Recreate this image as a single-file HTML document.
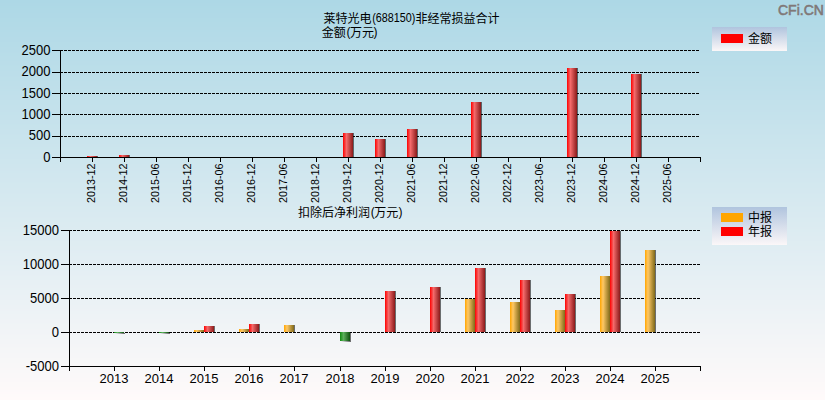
<!DOCTYPE html><html><head><meta charset="utf-8"><style>html,body{margin:0;padding:0;background:#fff}svg{display:block}.t{font-family:"Liberation Sans","WenQuanYi Zen Hei",sans-serif;fill:#000}.c{font-family:"Liberation Sans","Noto Sans CJK SC",sans-serif;fill:#000}</style></head><body>
<svg width="825" height="400" viewBox="0 0 825 400">
<defs><linearGradient id="bg" x1="0" y1="0" x2="0" y2="1"><stop offset="0" stop-color="#add8e6"/><stop offset="1" stop-color="#fffafa"/></linearGradient><linearGradient id="lg" x1="0" y1="0" x2="0" y2="1"><stop offset="0" stop-color="#b0c4de"/><stop offset="1" stop-color="#fbf7f8"/></linearGradient><linearGradient id="gr" x1="0" y1="0" x2="1" y2="0"><stop offset="0" stop-color="#ff0000"/><stop offset="0.35" stop-color="#f46a6a"/><stop offset="1" stop-color="#8b1a1a"/></linearGradient><linearGradient id="go" x1="0" y1="0" x2="1" y2="0"><stop offset="0" stop-color="#ffa500"/><stop offset="0.3" stop-color="#ffc866"/><stop offset="1" stop-color="#806a1a"/></linearGradient><linearGradient id="gg" x1="0" y1="0" x2="1" y2="0"><stop offset="0" stop-color="#108a10"/><stop offset="0.35" stop-color="#5cb05c"/><stop offset="1" stop-color="#0f500f"/></linearGradient><linearGradient id="sh" x1="0" y1="0" x2="1" y2="0"><stop offset="0" stop-color="#000" stop-opacity="0"/><stop offset="1" stop-color="#000" stop-opacity="0.55"/></linearGradient></defs>
<g shape-rendering="crispEdges">
<rect x="0" y="0" width="825" height="3" fill="#add8e6"/>
<rect x="0" y="3" width="825" height="3" fill="#aed8e6"/>
<rect x="0" y="6" width="825" height="2" fill="#aed9e6"/>
<rect x="0" y="8" width="825" height="2" fill="#afd9e6"/>
<rect x="0" y="10" width="825" height="3" fill="#afd9e7"/>
<rect x="0" y="13" width="825" height="5" fill="#b0d9e7"/>
<rect x="0" y="18" width="825" height="4" fill="#b1dae7"/>
<rect x="0" y="22" width="825" height="5" fill="#b2dae7"/>
<rect x="0" y="27" width="825" height="3" fill="#b3dae7"/>
<rect x="0" y="30" width="825" height="2" fill="#b3dbe8"/>
<rect x="0" y="32" width="825" height="5" fill="#b4dbe8"/>
<rect x="0" y="37" width="825" height="5" fill="#b5dbe8"/>
<rect x="0" y="42" width="825" height="5" fill="#b6dce8"/>
<rect x="0" y="47" width="825" height="3" fill="#b7dce8"/>
<rect x="0" y="50" width="825" height="2" fill="#b7dce9"/>
<rect x="0" y="52" width="825" height="1" fill="#b8dce9"/>
<rect x="0" y="53" width="825" height="3" fill="#b8dde9"/>
<rect x="0" y="56" width="825" height="5" fill="#b9dde9"/>
<rect x="0" y="61" width="825" height="4" fill="#badde9"/>
<rect x="0" y="65" width="825" height="1" fill="#badee9"/>
<rect x="0" y="66" width="825" height="4" fill="#bbdee9"/>
<rect x="0" y="70" width="825" height="1" fill="#bbdeea"/>
<rect x="0" y="71" width="825" height="5" fill="#bcdeea"/>
<rect x="0" y="76" width="825" height="1" fill="#bddeea"/>
<rect x="0" y="77" width="825" height="4" fill="#bddfea"/>
<rect x="0" y="81" width="825" height="5" fill="#bedfea"/>
<rect x="0" y="86" width="825" height="3" fill="#bfdfea"/>
<rect x="0" y="89" width="825" height="1" fill="#bfe0ea"/>
<rect x="0" y="90" width="825" height="1" fill="#bfe0eb"/>
<rect x="0" y="91" width="825" height="4" fill="#c0e0eb"/>
<rect x="0" y="95" width="825" height="5" fill="#c1e0eb"/>
<rect x="0" y="100" width="825" height="5" fill="#c2e1eb"/>
<rect x="0" y="105" width="825" height="5" fill="#c3e1eb"/>
<rect x="0" y="110" width="825" height="2" fill="#c4e1ec"/>
<rect x="0" y="112" width="825" height="3" fill="#c4e2ec"/>
<rect x="0" y="115" width="825" height="5" fill="#c5e2ec"/>
<rect x="0" y="120" width="825" height="4" fill="#c6e2ec"/>
<rect x="0" y="124" width="825" height="1" fill="#c6e3ec"/>
<rect x="0" y="125" width="825" height="4" fill="#c7e3ec"/>
<rect x="0" y="129" width="825" height="1" fill="#c8e3ec"/>
<rect x="0" y="130" width="825" height="4" fill="#c8e3ed"/>
<rect x="0" y="134" width="825" height="1" fill="#c9e3ed"/>
<rect x="0" y="135" width="825" height="4" fill="#c9e4ed"/>
<rect x="0" y="139" width="825" height="5" fill="#cae4ed"/>
<rect x="0" y="144" width="825" height="3" fill="#cbe4ed"/>
<rect x="0" y="147" width="825" height="2" fill="#cbe5ed"/>
<rect x="0" y="149" width="825" height="1" fill="#cce5ed"/>
<rect x="0" y="150" width="825" height="4" fill="#cce5ee"/>
<rect x="0" y="154" width="825" height="5" fill="#cde5ee"/>
<rect x="0" y="159" width="825" height="5" fill="#cee6ee"/>
<rect x="0" y="164" width="825" height="4" fill="#cfe6ee"/>
<rect x="0" y="168" width="825" height="2" fill="#d0e6ee"/>
<rect x="0" y="170" width="825" height="1" fill="#d0e6ef"/>
<rect x="0" y="171" width="825" height="2" fill="#d0e7ef"/>
<rect x="0" y="173" width="825" height="5" fill="#d1e7ef"/>
<rect x="0" y="178" width="825" height="4" fill="#d2e7ef"/>
<rect x="0" y="182" width="825" height="1" fill="#d2e8ef"/>
<rect x="0" y="183" width="825" height="5" fill="#d3e8ef"/>
<rect x="0" y="188" width="825" height="2" fill="#d4e8ef"/>
<rect x="0" y="190" width="825" height="3" fill="#d4e8f0"/>
<rect x="0" y="193" width="825" height="1" fill="#d5e8f0"/>
<rect x="0" y="194" width="825" height="4" fill="#d5e9f0"/>
<rect x="0" y="198" width="825" height="4" fill="#d6e9f0"/>
<rect x="0" y="202" width="825" height="4" fill="#d7e9f0"/>
<rect x="0" y="206" width="825" height="1" fill="#d7eaf0"/>
<rect x="0" y="207" width="825" height="3" fill="#d8eaf0"/>
<rect x="0" y="210" width="825" height="2" fill="#d8eaf1"/>
<rect x="0" y="212" width="825" height="5" fill="#d9eaf1"/>
<rect x="0" y="217" width="825" height="1" fill="#daeaf1"/>
<rect x="0" y="218" width="825" height="4" fill="#daebf1"/>
<rect x="0" y="222" width="825" height="5" fill="#dbebf1"/>
<rect x="0" y="227" width="825" height="2" fill="#dcebf1"/>
<rect x="0" y="229" width="825" height="1" fill="#dcecf1"/>
<rect x="0" y="230" width="825" height="2" fill="#dcecf2"/>
<rect x="0" y="232" width="825" height="4" fill="#ddecf2"/>
<rect x="0" y="236" width="825" height="5" fill="#deecf2"/>
<rect x="0" y="241" width="825" height="5" fill="#dfedf2"/>
<rect x="0" y="246" width="825" height="4" fill="#e0edf2"/>
<rect x="0" y="250" width="825" height="1" fill="#e0edf3"/>
<rect x="0" y="251" width="825" height="2" fill="#e1edf3"/>
<rect x="0" y="253" width="825" height="3" fill="#e1eef3"/>
<rect x="0" y="256" width="825" height="5" fill="#e2eef3"/>
<rect x="0" y="261" width="825" height="4" fill="#e3eef3"/>
<rect x="0" y="265" width="825" height="1" fill="#e3eff3"/>
<rect x="0" y="266" width="825" height="4" fill="#e4eff3"/>
<rect x="0" y="270" width="825" height="1" fill="#e4eff4"/>
<rect x="0" y="271" width="825" height="4" fill="#e5eff4"/>
<rect x="0" y="275" width="825" height="1" fill="#e6eff4"/>
<rect x="0" y="276" width="825" height="4" fill="#e6f0f4"/>
<rect x="0" y="280" width="825" height="5" fill="#e7f0f4"/>
<rect x="0" y="285" width="825" height="3" fill="#e8f0f4"/>
<rect x="0" y="288" width="825" height="2" fill="#e8f1f4"/>
<rect x="0" y="290" width="825" height="5" fill="#e9f1f5"/>
<rect x="0" y="295" width="825" height="5" fill="#eaf1f5"/>
<rect x="0" y="300" width="825" height="5" fill="#ebf2f5"/>
<rect x="0" y="305" width="825" height="4" fill="#ecf2f5"/>
<rect x="0" y="309" width="825" height="1" fill="#edf2f5"/>
<rect x="0" y="310" width="825" height="1" fill="#edf2f6"/>
<rect x="0" y="311" width="825" height="3" fill="#edf3f6"/>
<rect x="0" y="314" width="825" height="5" fill="#eef3f6"/>
<rect x="0" y="319" width="825" height="4" fill="#eff3f6"/>
<rect x="0" y="323" width="825" height="1" fill="#eff4f6"/>
<rect x="0" y="324" width="825" height="5" fill="#f0f4f6"/>
<rect x="0" y="329" width="825" height="1" fill="#f1f4f6"/>
<rect x="0" y="330" width="825" height="4" fill="#f1f4f7"/>
<rect x="0" y="334" width="825" height="1" fill="#f2f4f7"/>
<rect x="0" y="335" width="825" height="4" fill="#f2f5f7"/>
<rect x="0" y="339" width="825" height="5" fill="#f3f5f7"/>
<rect x="0" y="344" width="825" height="3" fill="#f4f5f7"/>
<rect x="0" y="347" width="825" height="1" fill="#f4f6f7"/>
<rect x="0" y="348" width="825" height="2" fill="#f5f6f7"/>
<rect x="0" y="350" width="825" height="3" fill="#f5f6f8"/>
<rect x="0" y="353" width="825" height="5" fill="#f6f6f8"/>
<rect x="0" y="358" width="825" height="5" fill="#f7f7f8"/>
<rect x="0" y="363" width="825" height="5" fill="#f8f7f8"/>
<rect x="0" y="368" width="825" height="2" fill="#f9f7f8"/>
<rect x="0" y="370" width="825" height="3" fill="#f9f8f9"/>
<rect x="0" y="373" width="825" height="5" fill="#faf8f9"/>
<rect x="0" y="378" width="825" height="4" fill="#fbf8f9"/>
<rect x="0" y="382" width="825" height="5" fill="#fcf9f9"/>
<rect x="0" y="387" width="825" height="3" fill="#fdf9f9"/>
<rect x="0" y="390" width="825" height="2" fill="#fdf9fa"/>
<rect x="0" y="392" width="825" height="2" fill="#fef9fa"/>
<rect x="0" y="394" width="825" height="3" fill="#fefafa"/>
<rect x="0" y="397" width="825" height="3" fill="#fffafa"/>
</g>
<g shape-rendering="crispEdges">
<line x1="60" y1="50.5" x2="700" y2="50.5" stroke="#000" stroke-width="1" stroke-dasharray="3 1"/>
<line x1="60" y1="72.5" x2="700" y2="72.5" stroke="#000" stroke-width="1" stroke-dasharray="3 1"/>
<line x1="60" y1="93.5" x2="700" y2="93.5" stroke="#000" stroke-width="1" stroke-dasharray="3 1"/>
<line x1="60" y1="114.5" x2="700" y2="114.5" stroke="#000" stroke-width="1" stroke-dasharray="3 1"/>
<line x1="60" y1="136.5" x2="700" y2="136.5" stroke="#000" stroke-width="1" stroke-dasharray="3 1"/>
</g>
<rect x="97" y="156" width="1" height="1" fill="#000" fill-opacity="0.55"/><rect x="87" y="156" width="10" height="1" fill="url(#gr)"/>
<rect x="129" y="155" width="1" height="2" fill="#000" fill-opacity="0.55"/><rect x="119" y="155" width="10" height="2" fill="url(#gr)"/>
<rect x="353" y="133" width="1" height="24" fill="#000" fill-opacity="0.55"/><rect x="343" y="133" width="10" height="24" fill="url(#gr)"/>
<rect x="385" y="139" width="1" height="18" fill="#000" fill-opacity="0.55"/><rect x="375" y="139" width="10" height="18" fill="url(#gr)"/>
<rect x="417" y="129" width="1" height="28" fill="#000" fill-opacity="0.55"/><rect x="407" y="129" width="10" height="28" fill="url(#gr)"/>
<rect x="481" y="102" width="1" height="55" fill="#000" fill-opacity="0.55"/><rect x="471" y="102" width="10" height="55" fill="url(#gr)"/>
<rect x="577" y="68" width="1" height="89" fill="#000" fill-opacity="0.55"/><rect x="567" y="68" width="10" height="89" fill="url(#gr)"/>
<rect x="641" y="74" width="1" height="83" fill="#000" fill-opacity="0.55"/><rect x="631" y="74" width="10" height="83" fill="url(#gr)"/>
<g shape-rendering="crispEdges">
<line x1="60" y1="157.5" x2="701" y2="157.5" stroke="#000" stroke-width="1"/>
<line x1="60.5" y1="50" x2="60.5" y2="162" stroke="#000" stroke-width="1"/>
<line x1="52" y1="50.5" x2="60" y2="50.5" stroke="#000" stroke-width="1"/>
<line x1="52" y1="72.5" x2="60" y2="72.5" stroke="#000" stroke-width="1"/>
<line x1="52" y1="93.5" x2="60" y2="93.5" stroke="#000" stroke-width="1"/>
<line x1="52" y1="114.5" x2="60" y2="114.5" stroke="#000" stroke-width="1"/>
<line x1="52" y1="136.5" x2="60" y2="136.5" stroke="#000" stroke-width="1"/>
<line x1="52" y1="157.5" x2="60" y2="157.5" stroke="#000" stroke-width="1"/>
<line x1="92.5" y1="157" x2="92.5" y2="162" stroke="#000" stroke-width="1"/>
<line x1="124.5" y1="157" x2="124.5" y2="162" stroke="#000" stroke-width="1"/>
<line x1="156.5" y1="157" x2="156.5" y2="162" stroke="#000" stroke-width="1"/>
<line x1="188.5" y1="157" x2="188.5" y2="162" stroke="#000" stroke-width="1"/>
<line x1="220.5" y1="157" x2="220.5" y2="162" stroke="#000" stroke-width="1"/>
<line x1="252.5" y1="157" x2="252.5" y2="162" stroke="#000" stroke-width="1"/>
<line x1="284.5" y1="157" x2="284.5" y2="162" stroke="#000" stroke-width="1"/>
<line x1="316.5" y1="157" x2="316.5" y2="162" stroke="#000" stroke-width="1"/>
<line x1="348.5" y1="157" x2="348.5" y2="162" stroke="#000" stroke-width="1"/>
<line x1="380.5" y1="157" x2="380.5" y2="162" stroke="#000" stroke-width="1"/>
<line x1="412.5" y1="157" x2="412.5" y2="162" stroke="#000" stroke-width="1"/>
<line x1="444.5" y1="157" x2="444.5" y2="162" stroke="#000" stroke-width="1"/>
<line x1="476.5" y1="157" x2="476.5" y2="162" stroke="#000" stroke-width="1"/>
<line x1="508.5" y1="157" x2="508.5" y2="162" stroke="#000" stroke-width="1"/>
<line x1="540.5" y1="157" x2="540.5" y2="162" stroke="#000" stroke-width="1"/>
<line x1="572.5" y1="157" x2="572.5" y2="162" stroke="#000" stroke-width="1"/>
<line x1="604.5" y1="157" x2="604.5" y2="162" stroke="#000" stroke-width="1"/>
<line x1="636.5" y1="157" x2="636.5" y2="162" stroke="#000" stroke-width="1"/>
<line x1="668.5" y1="157" x2="668.5" y2="162" stroke="#000" stroke-width="1"/>
<line x1="700.5" y1="157" x2="700.5" y2="162" stroke="#000" stroke-width="1"/>
</g>
<text class="t" font-size="14" text-anchor="end" transform="translate(50.5,55) scale(0.93,1)">2500</text>
<text class="t" font-size="14" text-anchor="end" transform="translate(50.5,76) scale(0.93,1)">2000</text>
<text class="t" font-size="14" text-anchor="end" transform="translate(50.5,98) scale(0.93,1)">1500</text>
<text class="t" font-size="14" text-anchor="end" transform="translate(50.5,119) scale(0.93,1)">1000</text>
<text class="t" font-size="14" text-anchor="end" transform="translate(50.5,140) scale(0.93,1)">500</text>
<text class="t" font-size="14" text-anchor="end" transform="translate(50.5,162) scale(0.93,1)">0</text>
<text class="t" font-size="11" text-anchor="end" transform="translate(95,163.5) rotate(-90) scale(0.98,1)">2013-12</text>
<text class="t" font-size="11" text-anchor="end" transform="translate(127,163.5) rotate(-90) scale(0.98,1)">2014-12</text>
<text class="t" font-size="11" text-anchor="end" transform="translate(159,163.5) rotate(-90) scale(0.98,1)">2015-06</text>
<text class="t" font-size="11" text-anchor="end" transform="translate(191,163.5) rotate(-90) scale(0.98,1)">2015-12</text>
<text class="t" font-size="11" text-anchor="end" transform="translate(223,163.5) rotate(-90) scale(0.98,1)">2016-06</text>
<text class="t" font-size="11" text-anchor="end" transform="translate(255,163.5) rotate(-90) scale(0.98,1)">2016-12</text>
<text class="t" font-size="11" text-anchor="end" transform="translate(287,163.5) rotate(-90) scale(0.98,1)">2017-06</text>
<text class="t" font-size="11" text-anchor="end" transform="translate(319,163.5) rotate(-90) scale(0.98,1)">2018-12</text>
<text class="t" font-size="11" text-anchor="end" transform="translate(351,163.5) rotate(-90) scale(0.98,1)">2019-12</text>
<text class="t" font-size="11" text-anchor="end" transform="translate(383,163.5) rotate(-90) scale(0.98,1)">2020-12</text>
<text class="t" font-size="11" text-anchor="end" transform="translate(415,163.5) rotate(-90) scale(0.98,1)">2021-06</text>
<text class="t" font-size="11" text-anchor="end" transform="translate(447,163.5) rotate(-90) scale(0.98,1)">2021-12</text>
<text class="t" font-size="11" text-anchor="end" transform="translate(479,163.5) rotate(-90) scale(0.98,1)">2022-06</text>
<text class="t" font-size="11" text-anchor="end" transform="translate(511,163.5) rotate(-90) scale(0.98,1)">2022-12</text>
<text class="t" font-size="11" text-anchor="end" transform="translate(543,163.5) rotate(-90) scale(0.98,1)">2023-06</text>
<text class="t" font-size="11" text-anchor="end" transform="translate(575,163.5) rotate(-90) scale(0.98,1)">2023-12</text>
<text class="t" font-size="11" text-anchor="end" transform="translate(607,163.5) rotate(-90) scale(0.98,1)">2024-06</text>
<text class="t" font-size="11" text-anchor="end" transform="translate(639,163.5) rotate(-90) scale(0.98,1)">2024-12</text>
<text class="t" font-size="11" text-anchor="end" transform="translate(671,163.5) rotate(-90) scale(0.98,1)">2025-06</text>
<g shape-rendering="crispEdges">
<line x1="69" y1="230.5" x2="700" y2="230.5" stroke="#000" stroke-width="1" stroke-dasharray="3 1"/>
<line x1="69" y1="264.5" x2="700" y2="264.5" stroke="#000" stroke-width="1" stroke-dasharray="3 1"/>
<line x1="69" y1="298.5" x2="700" y2="298.5" stroke="#000" stroke-width="1" stroke-dasharray="3 1"/>
<line x1="69" y1="332.5" x2="700" y2="332.5" stroke="#000" stroke-width="1" stroke-dasharray="3 1"/>
</g>
<rect x="124" y="333" width="1" height="1" fill="#000" fill-opacity="0.55"/><rect x="115" y="333" width="9" height="1" fill="url(#sh)"/><rect x="114" y="332" width="10" height="1" fill="url(#gg)"/>
<rect x="169" y="333" width="1" height="1" fill="#000" fill-opacity="0.55"/><rect x="160" y="333" width="9" height="1" fill="url(#sh)"/><rect x="159" y="332" width="10" height="1" fill="url(#gg)"/>
<rect x="204" y="330" width="1" height="2" fill="#000" fill-opacity="0.55"/><rect x="194" y="330" width="10" height="2" fill="url(#go)"/>
<rect x="214" y="326" width="1" height="6" fill="#000" fill-opacity="0.55"/><rect x="204" y="326" width="10" height="6" fill="url(#gr)"/>
<rect x="249" y="329" width="1" height="3" fill="#000" fill-opacity="0.55"/><rect x="239" y="329" width="10" height="3" fill="url(#go)"/>
<rect x="259" y="324" width="1" height="8" fill="#000" fill-opacity="0.55"/><rect x="249" y="324" width="10" height="8" fill="url(#gr)"/>
<rect x="294" y="325" width="1" height="7" fill="#000" fill-opacity="0.55"/><rect x="284" y="325" width="10" height="7" fill="url(#go)"/>
<rect x="350" y="333" width="1" height="9" fill="#000" fill-opacity="0.55"/><rect x="341" y="341" width="9" height="1" fill="url(#sh)"/><rect x="340" y="332" width="10" height="9" fill="url(#gg)"/>
<rect x="395" y="291" width="1" height="41" fill="#000" fill-opacity="0.55"/><rect x="385" y="291" width="10" height="41" fill="url(#gr)"/>
<rect x="440" y="287" width="1" height="45" fill="#000" fill-opacity="0.55"/><rect x="430" y="287" width="10" height="45" fill="url(#gr)"/>
<rect x="475" y="299" width="1" height="33" fill="#000" fill-opacity="0.55"/><rect x="465" y="299" width="10" height="33" fill="url(#go)"/>
<rect x="485" y="268" width="1" height="64" fill="#000" fill-opacity="0.55"/><rect x="475" y="268" width="10" height="64" fill="url(#gr)"/>
<rect x="520" y="302" width="1" height="30" fill="#000" fill-opacity="0.55"/><rect x="510" y="302" width="10" height="30" fill="url(#go)"/>
<rect x="530" y="280" width="1" height="52" fill="#000" fill-opacity="0.55"/><rect x="520" y="280" width="10" height="52" fill="url(#gr)"/>
<rect x="565" y="310" width="1" height="22" fill="#000" fill-opacity="0.55"/><rect x="555" y="310" width="10" height="22" fill="url(#go)"/>
<rect x="575" y="294" width="1" height="38" fill="#000" fill-opacity="0.55"/><rect x="565" y="294" width="10" height="38" fill="url(#gr)"/>
<rect x="610" y="276" width="1" height="56" fill="#000" fill-opacity="0.55"/><rect x="600" y="276" width="10" height="56" fill="url(#go)"/>
<rect x="620" y="231" width="1" height="101" fill="#000" fill-opacity="0.55"/><rect x="610" y="231" width="10" height="101" fill="url(#gr)"/>
<rect x="655" y="250" width="1" height="82" fill="#000" fill-opacity="0.55"/><rect x="645" y="250" width="10" height="82" fill="url(#go)"/>
<g shape-rendering="crispEdges">
<line x1="69" y1="366.5" x2="701" y2="366.5" stroke="#000" stroke-width="1"/>
<line x1="69.5" y1="230" x2="69.5" y2="371" stroke="#000" stroke-width="1"/>
<line x1="61" y1="230.5" x2="69" y2="230.5" stroke="#000" stroke-width="1"/>
<line x1="61" y1="264.5" x2="69" y2="264.5" stroke="#000" stroke-width="1"/>
<line x1="61" y1="298.5" x2="69" y2="298.5" stroke="#000" stroke-width="1"/>
<line x1="61" y1="332.5" x2="69" y2="332.5" stroke="#000" stroke-width="1"/>
<line x1="61" y1="366.5" x2="69" y2="366.5" stroke="#000" stroke-width="1"/>
<line x1="114.5" y1="366" x2="114.5" y2="371" stroke="#000" stroke-width="1"/>
<line x1="159.5" y1="366" x2="159.5" y2="371" stroke="#000" stroke-width="1"/>
<line x1="204.5" y1="366" x2="204.5" y2="371" stroke="#000" stroke-width="1"/>
<line x1="249.5" y1="366" x2="249.5" y2="371" stroke="#000" stroke-width="1"/>
<line x1="294.5" y1="366" x2="294.5" y2="371" stroke="#000" stroke-width="1"/>
<line x1="340.5" y1="366" x2="340.5" y2="371" stroke="#000" stroke-width="1"/>
<line x1="385.5" y1="366" x2="385.5" y2="371" stroke="#000" stroke-width="1"/>
<line x1="430.5" y1="366" x2="430.5" y2="371" stroke="#000" stroke-width="1"/>
<line x1="475.5" y1="366" x2="475.5" y2="371" stroke="#000" stroke-width="1"/>
<line x1="520.5" y1="366" x2="520.5" y2="371" stroke="#000" stroke-width="1"/>
<line x1="565.5" y1="366" x2="565.5" y2="371" stroke="#000" stroke-width="1"/>
<line x1="610.5" y1="366" x2="610.5" y2="371" stroke="#000" stroke-width="1"/>
<line x1="655.5" y1="366" x2="655.5" y2="371" stroke="#000" stroke-width="1"/>
<line x1="700.5" y1="366" x2="700.5" y2="371" stroke="#000" stroke-width="1"/>
</g>
<text class="t" font-size="14" text-anchor="end" transform="translate(59,235) scale(0.93,1)">15000</text>
<text class="t" font-size="14" text-anchor="end" transform="translate(59,269) scale(0.93,1)">10000</text>
<text class="t" font-size="14" text-anchor="end" transform="translate(59,303) scale(0.93,1)">5000</text>
<text class="t" font-size="14" text-anchor="end" transform="translate(59,337) scale(0.93,1)">0</text>
<text class="t" font-size="14" text-anchor="end" transform="translate(59,371) scale(0.93,1)">-5000</text>
<text class="t" x="114" y="383" font-size="13" text-anchor="middle">2013</text>
<text class="t" x="159" y="383" font-size="13" text-anchor="middle">2014</text>
<text class="t" x="204" y="383" font-size="13" text-anchor="middle">2015</text>
<text class="t" x="249" y="383" font-size="13" text-anchor="middle">2016</text>
<text class="t" x="294" y="383" font-size="13" text-anchor="middle">2017</text>
<text class="t" x="340" y="383" font-size="13" text-anchor="middle">2018</text>
<text class="t" x="385" y="383" font-size="13" text-anchor="middle">2019</text>
<text class="t" x="430" y="383" font-size="13" text-anchor="middle">2020</text>
<text class="t" x="475" y="383" font-size="13" text-anchor="middle">2021</text>
<text class="t" x="520" y="383" font-size="13" text-anchor="middle">2022</text>
<text class="t" x="565" y="383" font-size="13" text-anchor="middle">2023</text>
<text class="t" x="610" y="383" font-size="13" text-anchor="middle">2024</text>
<text class="t" x="655" y="383" font-size="13" text-anchor="middle">2025</text>
<text class="c" x="323.5" y="23" font-size="12">莱特光电</text>
<text class="t" font-size="12.5" transform="translate(372.2,22) scale(0.863,1)">(688150)</text>
<text class="c" x="415.5" y="23" font-size="12">非经常损益合计</text>
<text class="c" x="321.8" y="37" font-size="12">金额</text>
<text class="t" x="346.5" y="35.6" font-size="12">(</text>
<text class="c" x="350.1" y="37" font-size="12">万元</text>
<text class="t" x="373.6" y="35.6" font-size="12">)</text>
<text class="c" x="298" y="217" font-size="12">扣除后净利润</text>
<text class="t" x="370.8" y="215.8" font-size="12">(</text>
<text class="c" x="374.2" y="217" font-size="12">万元</text>
<text class="t" x="398.5" y="215.8" font-size="12">)</text>
<text x="778" y="15" font-size="14" fill="#807878" stroke="#807878" stroke-width="0.55" style="font-family:'Liberation Sans',sans-serif">CFi.CN</text>
<rect x="712" y="27" width="75" height="24" fill="url(#lg)"/>
<rect x="721" y="34" width="22" height="9" fill="#ff0000"/>
<text class="c" x="748" y="43" font-size="12">金额</text>
<rect x="712" y="207" width="75" height="38" fill="url(#lg)"/>
<rect x="721" y="213" width="22" height="9" fill="#ffa500"/>
<rect x="721" y="227" width="22" height="9" fill="#ff0000"/>
<text class="c" x="748" y="222" font-size="12">中报</text>
<text class="c" x="748" y="236" font-size="12">年报</text>
</svg></body></html>
